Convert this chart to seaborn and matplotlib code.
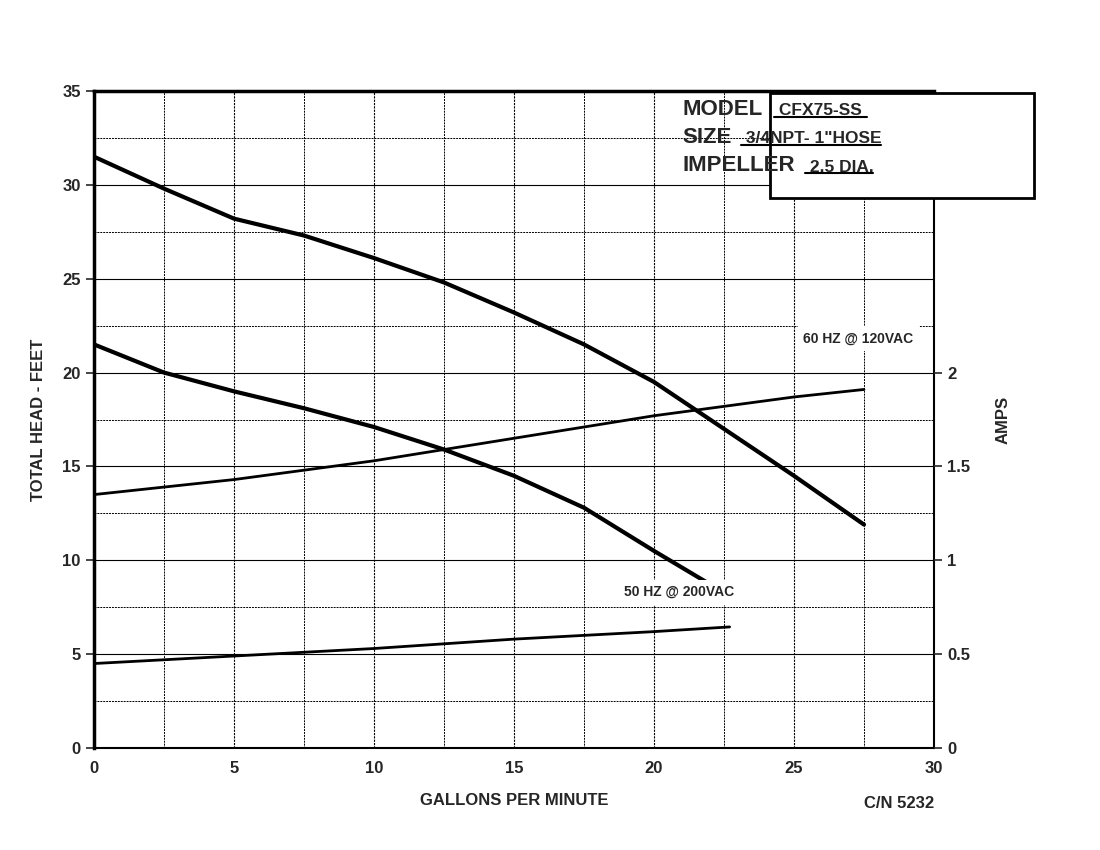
import numpy as np
import matplotlib.pyplot as plt
import seaborn as sns

# head curves (feet) vs gpm
gpm_60 = [0, 2.5, 5, 7.5, 10, 12.5, 15, 17.5, 20, 22.5, 25, 27.5]
head_60 = [31.5, 29.8, 28.2, 27.3, 26.1, 24.8, 23.2, 21.5, 19.5, 17.0, 14.5, 11.9]
gpm_50 = [0, 2.5, 5, 7.5, 10, 12.5, 15, 17.5, 20, 22.7]
head_50 = [21.5, 20.0, 19.0, 18.1, 17.1, 15.9, 14.5, 12.8, 10.5, 8.1]
# amps curves
amp_gpm_60 = [0, 5, 10, 15, 20, 25, 27.5]
amps_60 = [1.35, 1.43, 1.53, 1.65, 1.77, 1.87, 1.91]
amp_gpm_50 = [0, 5, 10, 15, 20, 22.7]
amps_50 = [0.45, 0.49, 0.53, 0.58, 0.62, 0.645]

sns.set_style("white")
plt.rcParams['font.family'] = ['Liberation Sans', 'DejaVu Sans']

fig = plt.figure(figsize=(11, 8.5), dpi=100)
ax = fig.add_axes([94/1100, 1-748/850, 840/1100, 657/850])

ax.set_xlim(0, 30)
ax.set_ylim(0, 35)
ax.set_xticks(range(0, 31, 5))
ax.set_yticks(range(0, 36, 5))
ax.set_xticks(np.arange(2.5, 30, 5), minor=True)
ax.set_yticks(np.arange(2.5, 35, 5), minor=True)
ax.grid(True, which='major', axis='y', color='black', lw=0.8)
ax.grid(True, which='major', axis='x', color='black', lw=0.8, ls=(0, (2, 1)))
ax.grid(True, which='minor', color='black', lw=0.7, ls=(0, (2, 1)))
ax.tick_params(which='minor', length=0)
ax.tick_params(which='major', direction='out', length=6, width=1.2, labelsize=12)
for lab in ax.get_xticklabels() + ax.get_yticklabels():
    lab.set_fontweight('bold')
for s in ['left', 'top']:
    ax.spines[s].set_linewidth(2.5)
ax.spines['bottom'].set_linewidth(1.5)
ax.spines['right'].set_linewidth(1.5)
for s in ax.spines.values():
    s.set_color('black')

sns.lineplot(x=gpm_60, y=head_60, ax=ax, color='black', lw=3)
sns.lineplot(x=gpm_50, y=head_50, ax=ax, color='black', lw=3)

ax2 = ax.twinx()
ax2.set_ylim(0, 3.5)
ax2.set_yticks([0, 0.5, 1, 1.5, 2])
ax2.set_yticklabels(['0', '0.5', '1', '1.5', '2'], fontweight='bold', fontsize=12)
ax2.tick_params(direction='out', length=6, width=1.2)
for s in ax2.spines.values():
    s.set_visible(False)
sns.lineplot(x=amp_gpm_60, y=amps_60, ax=ax2, color='black', lw=2)
sns.lineplot(x=amp_gpm_50, y=amps_50, ax=ax2, color='black', lw=2)

ax.set_xlabel('GALLONS PER MINUTE', fontsize=12, fontweight='bold', labelpad=12)
ax.set_ylabel('TOTAL HEAD - FEET', fontsize=12, fontweight='bold', labelpad=12)
ax2.set_ylabel('AMPS', fontsize=12, fontweight='bold', labelpad=18)

ax.text(27.3, 21.8, '60 HZ @ 120VAC', fontsize=10, fontweight='bold', zorder=6,
        ha='center', va='center', bbox=dict(fc='white', ec='none', pad=4))
ax.text(20.9, 8.3, '50 HZ @ 200VAC', fontsize=10, fontweight='bold', zorder=6,
        ha='center', va='center', bbox=dict(fc='white', ec='none', pad=4))

# model box
bx0, bx1 = 676/840, 940/840
box = plt.Rectangle((bx0, 1-107/657), bx1-bx0, 105/657, transform=ax.transAxes,
                    fc='white', ec='black', lw=2, zorder=5, clip_on=False)
ax.add_patch(box)
rows = [('MODEL', ' CFX75-SS '), ('SIZE', ' 3/4NPT- 1"HOSE'), ('IMPELLER', ' 2.5 DIA.')]
ys = [0.972, 0.929, 0.886]
xs2 = [0.81, 0.77, 0.846]
for (a, b), yy, x2 in zip(rows, ys, xs2):
    ax.text(0.7, yy, a, transform=ax.transAxes, fontsize=16, fontweight='bold',
            va='center', zorder=6)
    t = ax.text(x2, yy - 0.002, b, transform=ax.transAxes, fontsize=12.5,
                fontweight='bold', va='center', zorder=6)
    fig.canvas.draw()
    bb = t.get_window_extent().transformed(ax.transAxes.inverted())
    ax.plot([bb.x0, bb.x1], [bb.y0 + 0.002, bb.y0 + 0.002], transform=ax.transAxes,
            color='black', lw=1.5, zorder=6, clip_on=False)

fig.text(934/1100, 1-803/850, 'C/N 5232', fontsize=12, fontweight='bold',
         ha='right', va='center')

fig.savefig('out.png', dpi=100)
